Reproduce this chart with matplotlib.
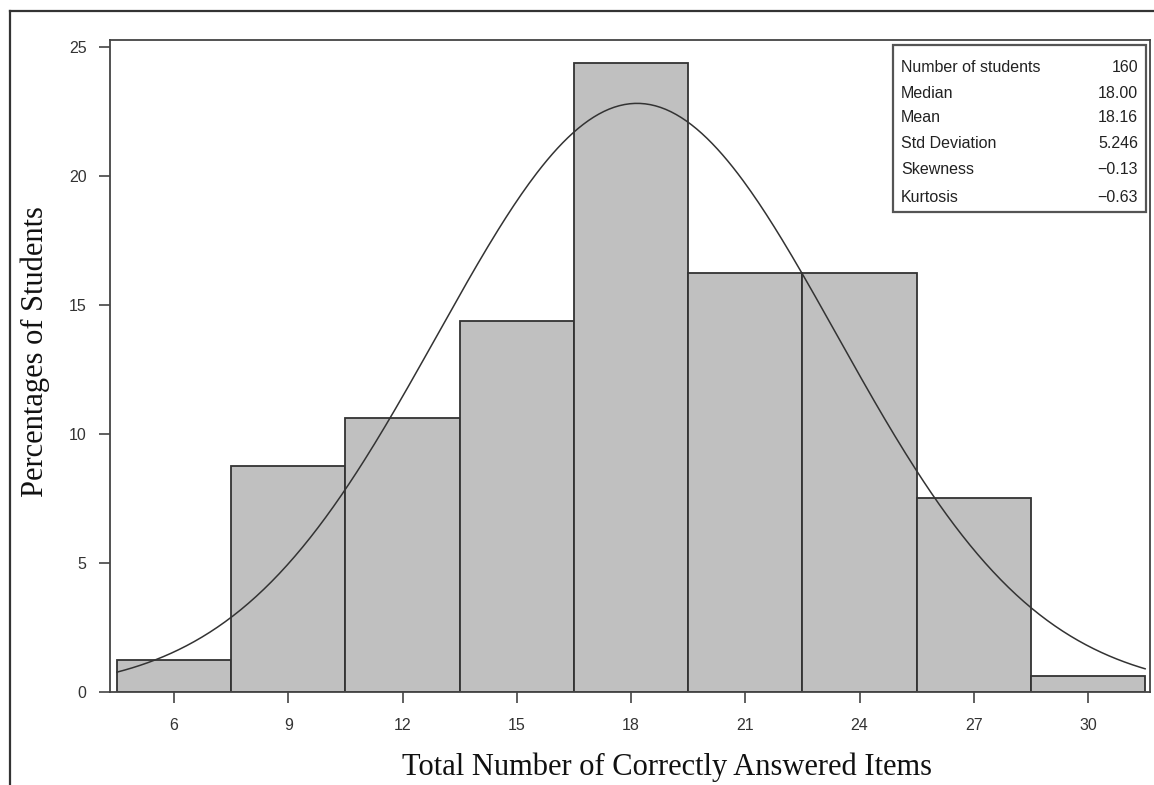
import numpy as np
import matplotlib
matplotlib.use("Agg")
import matplotlib.pyplot as plt
from matplotlib.lines import Line2D
from matplotlib.patches import Rectangle

# ---- data ----
bin_centers = [6, 9, 12, 15, 18, 21, 24, 27, 30]
percentages = [1.25, 8.75, 10.625, 14.375, 24.375, 16.25, 16.25, 7.5, 0.625]
bin_width = 3
x_ticks = [6, 9, 12, 15, 18, 21, 24, 27, 30]
y_ticks = [0, 5, 10, 15, 20, 25]
mean_val = 18.16
sd_val = 5.246
stat_names = ["Number of students", "Median", "Mean", "Std Deviation", "Skewness", "Kurtosis"]
stat_values = ["160", "18.00", "18.16", "5.246", "\u22120.13", "\u22120.63"]
x_label = "Total Number of Correctly Answered Items"
y_label = "Percentages of Students"

W, H = 1154, 785
fig = plt.figure(figsize=(W / 100, H / 100), dpi=100)
fig.patch.set_facecolor("white")

def fx(px):
    return px / W

def fy(py):
    return 1 - py / H

ax = fig.add_axes([fx(110), fy(692), (1150 - 110) / W, (692 - 40) / H])

ax.bar(bin_centers, percentages, width=bin_width, color="#c0c0c0",
       edgecolor="#333333", linewidth=1.3, zorder=2)

xs = np.linspace(bin_centers[0] - bin_width / 2, bin_centers[-1] + bin_width / 2, 400)
ys = 100 * bin_width * np.exp(-0.5 * ((xs - mean_val) / sd_val) ** 2) / (sd_val * np.sqrt(2 * np.pi))
ax.plot(xs, ys, color="#333333", linewidth=1.1, zorder=3)

ax.set_xlim(4.319, 31.628)
ax.set_ylim(0, 25.27)
ax.set_xticks(x_ticks)
ax.set_yticks(y_ticks)
ax.set_xticklabels([str(t) for t in x_ticks], family="Liberation Sans", fontsize=11.5, color="#333333")
ax.set_yticklabels([str(t) for t in y_ticks], family="Liberation Sans", fontsize=11.5, color="#333333")
ax.tick_params(axis="x", direction="out", length=8, width=1.2, color="#444444", pad=11)
ax.tick_params(axis="y", direction="out", length=8, width=1.2, color="#444444", pad=9)
for s in ax.spines.values():
    s.set_linewidth(1.3)
    s.set_color("#444444")

# stats box
box = Rectangle((fx(893), fy(212)), (1146 - 893) / W, (212 - 45) / H,
                transform=fig.transFigure, facecolor="white", edgecolor="#555555",
                linewidth=1.6, zorder=5)
fig.add_artist(box)
row_y = [68, 93, 118, 143, 170, 197]
for name, val, ry in zip(stat_names, stat_values, row_y):
    fig.text(fx(901), fy(ry), name, ha="left", va="center", family="Liberation Sans",
             fontsize=11.5, color="#222222", zorder=6)
    fig.text(fx(1138), fy(ry), val, ha="right", va="center", family="Liberation Sans",
             fontsize=11.5, color="#222222", zorder=6)

# axis labels
fig.text(fx(667), fy(767), x_label, ha="center", va="center", family="Liberation Serif",
         fontsize=22, color="#111111")
fig.text(fx(35), fy(352), y_label, ha="center", va="center", rotation=90,
         family="Liberation Serif", fontsize=22, color="#111111")

# outer frame lines
fig.add_artist(Line2D([fx(10), fx(10)], [fy(11), 0], transform=fig.transFigure,
                      color="#333333", linewidth=1.6))
fig.add_artist(Line2D([fx(10), 1], [fy(11), fy(11)], transform=fig.transFigure,
                      color="#333333", linewidth=1.6))

fig.savefig("out.png", dpi=100)
